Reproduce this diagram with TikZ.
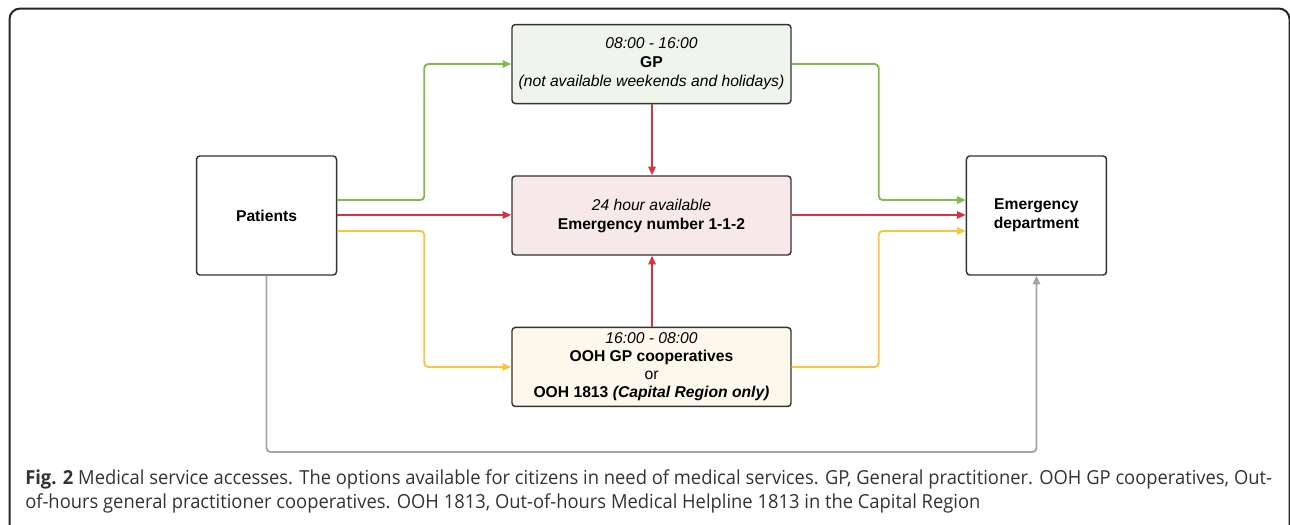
\documentclass[tikz,border=0pt]{standalone}
\usepackage{fontspec}
\setmainfont{Liberation Sans}
\newfontfamily\capfont[FakeStretch=0.95]{Open Sans}
\usepackage{tikz}
\usetikzlibrary{positioning, arrows.meta, calc}

\definecolor{boxline}{HTML}{333333}
\definecolor{gpgreen}{HTML}{7DBB4B}
\definecolor{emred}{HTML}{D6333F}
\definecolor{oohyellow}{HTML}{FBC43A}
\definecolor{edgray}{HTML}{A3A3A3}
\definecolor{gpfill}{HTML}{F0F5EC}
\definecolor{enfill}{HTML}{F7E9EA}
\definecolor{oohfill}{HTML}{FDF8EC}
\definecolor{captext}{HTML}{333333}

\tikzset{
>={Triangle[length=6.5pt,width=5.5pt]}, % small filled heads
box/.style={draw=boxline, line width=1.1pt, rounded corners=2.5pt, align=center,
  font=\fontsize{11.75}{14.25}\selectfont}, % common look of every box
sidebox/.style={box, minimum width=105pt, minimum height=89.25pt}, % patients and ED
midbox/.style={box, minimum width=209.25pt, minimum height=59.25pt}, % the three services
link/.style={->, line width=1.4pt, rounded corners=3pt}, % connectors
}

\begin{document}
\begin{tikzpicture}[x=0.75pt, y=-0.75pt]
    \useasboundingbox (0,0) rectangle (1290,525);
    % outer frame, runs off the page right and below
    \draw[line width=1.5pt, color=black!85, rounded corners=8pt] (9.5,8.5) rectangle (1289.5,560);

    \node[midbox, fill=enfill] (en) at (651.5,215.5) {\textit{24 hour available}\\\textbf{Emergency number 1-1-2}};
    \node[midbox, fill=gpfill, above=53.25pt of en] (gp) {\textit{08:00 - 16:00}\\\textbf{GP}\\\textit{(not available weekends and holidays)}};
    \node[midbox, fill=oohfill, below=53.25pt of en, font=\fontsize{11.75}{13.5}\selectfont] (ooh) {\textit{16:00 - 08:00}\\\textbf{OOH GP cooperatives}\\or\\\textbf{OOH 1813 \textit{(Capital Region only)}}};
    \node[sidebox, left=130.5pt of en] (pat) {\textbf{Patients}};
    \node[sidebox, right=130.5pt of en] (ed) {\textbf{Emergency}\\\textbf{department}};
    \coordinate (low) at (651.5,452);

    % green: GP route
    \draw[link, gpgreen] ([yshift=11.6pt]pat.east) -| ($(pat.east)!.5!(gp.west)$) |- (gp.west);
    \draw[link, gpgreen] (gp.east) -| ($(gp.east)!.5!(ed.west)$) |- ([yshift=11.6pt]ed.west);
    % red: emergency number (nudged off the half pixel)
    \draw[link, emred] ([yshift=0.4pt]pat.east) -- ([yshift=0.4pt]en.west);
    \draw[link, emred] ([yshift=0.4pt]en.east) -- ([yshift=0.4pt]ed.west);
    \draw[link, emred] ([xshift=0.4pt]gp.south) -- ([xshift=0.4pt]en.north);
    \draw[link, emred] ([xshift=0.4pt]ooh.north) -- ([xshift=0.4pt]en.south);
    % yellow: out of hours
    \draw[link, oohyellow] ([yshift=-11.6pt]pat.east) -| ($(pat.east)!.5!(ooh.west)$) |- (ooh.west);
    \draw[link, oohyellow] (ooh.east) -| ($(ooh.east)!.5!(ed.west)$) |- ([yshift=-11.6pt]ed.west);
    % gray: straight to ED
    \draw[link, edgray] (pat.south) |- (low) -| (ed.south);

    % caption
    \node[anchor=base west, inner sep=0pt, text=captext, font=\capfont\fontsize{14.5}{17}\selectfont] (cap1) at (25,484)
        {\textbf{Fig. 2} Medical service accesses. The options available for citizens in need of medical services. GP, General practitioner. OOH GP cooperatives, Out-};
    \node[anchor=base west, inner sep=0pt, text=captext, font=\capfont\fontsize{14.5}{17}\selectfont] (cap2) at (25,508)
        {of-hours general practitioner cooperatives. OOH 1813, Out-of-hours Medical Helpline 1813 in the Capital Region};
\end{tikzpicture}
\end{document}
